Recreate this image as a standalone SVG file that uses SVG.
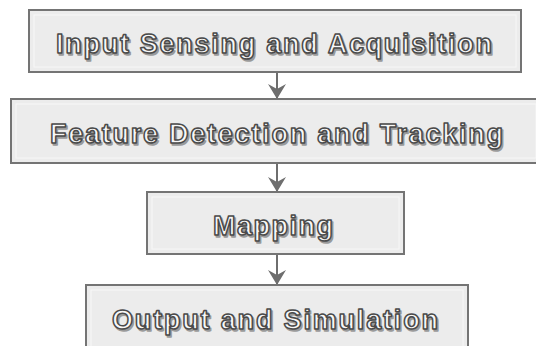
<svg xmlns="http://www.w3.org/2000/svg" width="536" height="346" viewBox="0 0 536 346">
<defs>
<style>
.box{fill:#ececec;stroke:#747474;stroke-width:2}
.inner{fill:none;stroke:#f7f7f7;stroke-width:1}
.lbl{font-family:"Liberation Sans",Arial,sans-serif;font-weight:bold;font-size:27px;fill:#f8f8f8;stroke:#4a4a4a;stroke-width:1.5px;stroke-linejoin:round}
.shadow{font-family:"Liberation Sans",Arial,sans-serif;font-weight:bold;font-size:27px;fill:#9a9a9a;stroke:#9a9a9a;stroke-width:1.5px;stroke-linejoin:round}
.conn{stroke:#6e6e6e;stroke-width:2;fill:none}
</style>
<marker id="ah" viewBox="0 0 20 20" refX="20" refY="10" markerWidth="20" markerHeight="20" markerUnits="userSpaceOnUse" orient="auto">
<path d="M5,1 L20,10 L5,19 L10,10 Z" fill="#6e6e6e"/>
</marker>
</defs>
<rect width="536" height="346" fill="#ffffff"/>
<g id="connectors">
<line class="conn" x1="277" y1="73" x2="277" y2="99" marker-end="url(#ah)"/>
<line class="conn" x1="277" y1="164" x2="277" y2="192" marker-end="url(#ah)"/>
<line class="conn" x1="277" y1="255" x2="277" y2="285" marker-end="url(#ah)"/>
</g>
<g id="node-input">
<rect class="box" x="29" y="10" width="492" height="62"/>
<rect class="inner" x="34" y="15" width="482" height="52"/>
<text class="shadow" x="57.5" y="54.5" textLength="436" lengthAdjust="spacing">Input Sensing and Acquisition</text>
<text class="lbl" x="56" y="53" textLength="436" lengthAdjust="spacing">Input Sensing and Acquisition</text>
</g>
<g id="node-feature">
<rect class="box" x="11" y="99" width="530" height="64"/>
<rect class="inner" x="16" y="104" width="520" height="54"/>
<text class="shadow" x="51.5" y="144.5" textLength="453" lengthAdjust="spacing">Feature Detection and Tracking</text>
<text class="lbl" x="50" y="143" textLength="453" lengthAdjust="spacing">Feature Detection and Tracking</text>
</g>
<g id="node-mapping">
<rect class="box" x="147" y="192" width="257" height="62"/>
<rect class="inner" x="152" y="197" width="247" height="52"/>
<text class="shadow" x="214.5" y="236.5" textLength="120" lengthAdjust="spacing">Mapping</text>
<text class="lbl" x="213" y="235" textLength="120" lengthAdjust="spacing">Mapping</text>
</g>
<g id="node-output">
<rect class="box" x="86" y="285" width="382" height="70"/>
<rect class="inner" x="91" y="290" width="372" height="60"/>
<text class="shadow" x="113.5" y="330.5" textLength="326" lengthAdjust="spacing">Output and Simulation</text>
<text class="lbl" x="112" y="329" textLength="326" lengthAdjust="spacing">Output and Simulation</text>
</g>
</svg>
